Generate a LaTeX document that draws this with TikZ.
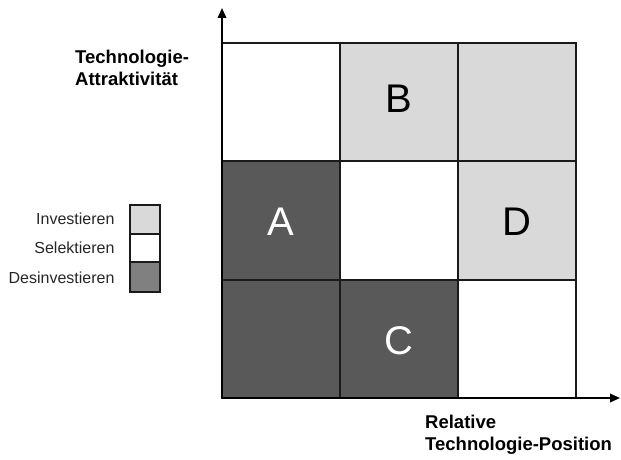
\documentclass[tikz,border=0pt]{standalone}
\usepackage{fontspec}
\setmainfont{Liberation Sans}
\usetikzlibrary{arrows.meta}
\definecolor{invest}{HTML}{D9D9D9}
\definecolor{desinv}{HTML}{595959}
\definecolor{desinvkey}{HTML}{808080}
\definecolor{linegray}{HTML}{1A1A1A}
\begin{document}
\begin{tikzpicture}[x=1pt,y=-1pt,
  cell/.style={draw=linegray,line width=1.4pt},
  keybox/.style={draw=linegray,line width=1.4pt},
  letter/.style={font=\fontsize{40}{40}\selectfont,anchor=base},
  keylabel/.style={font=\fontsize{16}{16}\selectfont,anchor=base east,text=black!85},
  axislabel/.style={font=\fontsize{18.5}{22}\selectfont\bfseries,align=left,inner sep=0pt},
  axis/.style={line width=1.8pt,-{Triangle[length=10pt,width=8.5pt]}}]
\useasboundingbox (0,0) rectangle (621,460);

% portfolio grid, top row first
\filldraw[cell,fill=white]  (222,43)  rectangle (340,161);
\filldraw[cell,fill=invest] (340,43)  rectangle (458,161);
\filldraw[cell,fill=invest] (458,43)  rectangle (576,161);
\filldraw[cell,fill=desinv] (222,161) rectangle (340,280);
\filldraw[cell,fill=white]  (340,161) rectangle (458,280);
\filldraw[cell,fill=invest] (458,161) rectangle (576,280);
\filldraw[cell,fill=desinv] (222,280) rectangle (340,398);
\filldraw[cell,fill=desinv] (340,280) rectangle (458,398);
\filldraw[cell,fill=white]  (458,280) rectangle (576,398);

% technology letters
\node[letter]            (B) at (399,112) {B};
\node[letter,text=white] (A) at (281,235) {A};
\node[letter]            (D) at (517,235) {D};
\node[letter,text=white] (C) at (399,354) {C};

% axes
\coordinate (O) at (222,398);
\coordinate (ytip) at (222,8);
\coordinate (xtip) at (620,398);
\draw[axis] (O) -- (ytip);
\draw[axis] (O) -- (xtip);

% axis titles (base anchor sits on the last line)
\node[axislabel,anchor=base west] (ylab) at (75,85) {Technologie-\\Attraktivität};
\node[axislabel,anchor=base west] (xlab) at (425,450) {Relative\\Technologie-Position};

% legend
\filldraw[keybox,fill=invest]    (130,205) rectangle (160,234);
\filldraw[keybox,fill=white]     (130,234) rectangle (160,262);
\filldraw[keybox,fill=desinvkey] (130,262) rectangle (160,292);
\node[keylabel] (k1) at (118,224) {Investieren};
\node[keylabel] (k2) at (118,253) {Selektieren};
\node[keylabel] (k3) at (118,283) {Desinvestieren};
\end{tikzpicture}
\end{document}
